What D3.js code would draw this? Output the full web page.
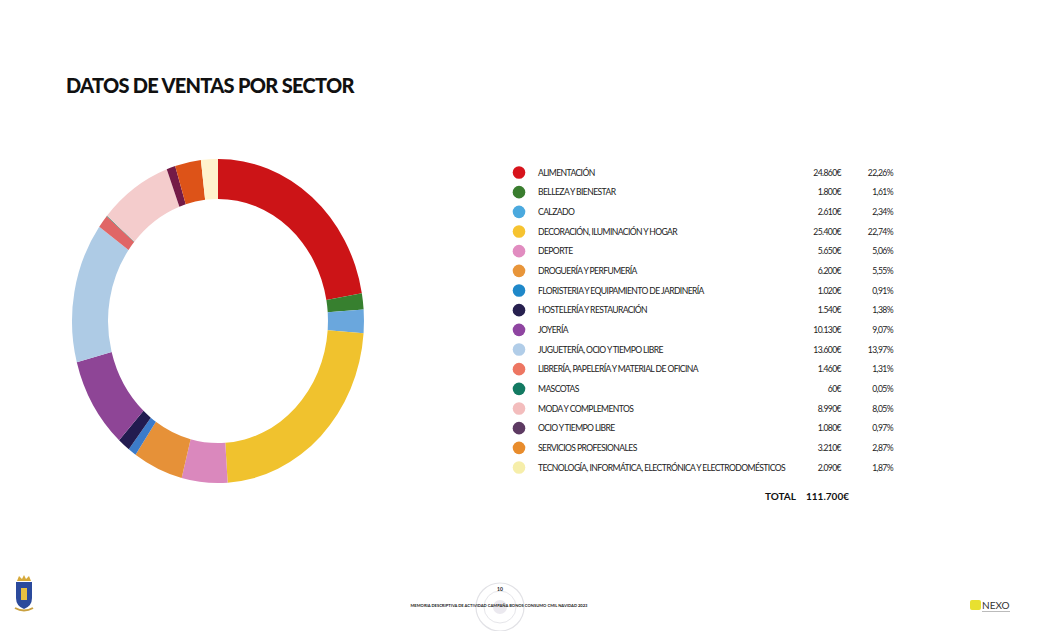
<!DOCTYPE html>
<html>
<head>
<meta charset="utf-8">
<script src="https://cdn.jsdelivr.net/npm/d3@7"></script>
<style>
  body { margin: 0; background: #fff; }
  svg { display: block; font-family: Lato, 'Open Sans', sans-serif; }
</style>
</head>
<body>
<div id="chart"></div>
<script>
'use strict';

var sectors = [
  'ALIMENTACIÓN', 'BELLEZA Y BIENESTAR', 'CALZADO', 'DECORACIÓN, ILUMINACIÓN Y HOGAR',
  'DEPORTE', 'DROGUERÍA Y PERFUMERÍA', 'FLORISTERIA Y EQUIPAMIENTO DE JARDINERÍA',
  'HOSTELERÍA Y RESTAURACIÓN', 'JOYERÍA', 'JUGUETERÍA, OCIO Y TIEMPO LIBRE',
  'LIBRERÍA, PAPELERÍA Y MATERIAL DE OFICINA', 'MASCOTAS', 'MODA Y COMPLEMENTOS',
  'OCIO Y TIEMPO LIBRE', 'SERVICIOS PROFESIONALES',
  'TECNOLOGÍA, INFORMÁTICA, ELECTRÓNICA Y ELECTRODOMÉSTICOS'
];
var ventas = [24860, 1800, 2610, 25400, 5650, 6200, 1020, 1540, 10130, 13600, 1460, 60, 8990, 1080, 3210, 2090];
var ventasTxt = ['24.860€', '1.800€', '2.610€', '25.400€', '5.650€', '6.200€', '1.020€', '1.540€',
  '10.130€', '13.600€', '1.460€', '60€', '8.990€', '1.080€', '3.210€', '2.090€'];
var porcentajes = [22.26, 1.61, 2.34, 22.74, 5.06, 5.55, 0.91, 1.38, 9.07, 13.97, 1.31, 0.05, 8.05, 0.97, 2.87, 1.87];
var coloresAnillo = ['#cc1417', '#37802f', '#6aa7dd', '#f0c22e', '#da88bd', '#e69138', '#3c7bc9', '#221b50',
  '#8e4596', '#aecbe5', '#e06666', '#127a62', '#f4cccc', '#741b47', '#dd5318', '#fff2cc'];
var coloresLeyenda = ['#d7141c', '#3a7d2f', '#4ba9de', '#f6c330', '#e18cc0', '#e8953a', '#1f88c9', '#27204f',
  '#8f45a1', '#b1cde8', '#ed7662', '#137a62', '#f3bdbd', '#5d3a62', '#e88c2c', '#f6eeaa'];
var total = '111.700€';

var W = 1051, H = 631;
var svg = d3.select('#chart').append('svg').attr('width', W).attr('height', H);

svg.append('text')
  .attr('x', 66).attr('y', 93)
  .style('font-size', '20px').style('font-weight', 900).style('letter-spacing', '-0.7px').style('fill', '#111')
  .text('DATOS DE VENTAS POR SECTOR');

// donut (slightly stretched vertically like the original)
var pie = d3.pie().sort(null).value(function(d) { return d; });
var arc = d3.arc().innerRadius(110).outerRadius(146);

var donut = svg.append('g')
  .attr('transform', 'translate(218,321) scale(1,1.11)');

donut.selectAll('path')
  .data(pie(porcentajes))
  .join('path')
  .attr('d', arc)
  .style('fill', function(d, i) { return coloresAnillo[i]; })
  .style('stroke', 'none');

// legend table
var rowY = d3.scaleLinear().domain([0, sectors.length - 1]).range([172.5, 467.5]);

var rows = svg.append('g').selectAll('g')
  .data(sectors)
  .join('g')
  .attr('transform', function(d, i) { return 'translate(0,' + rowY(i) + ')'; });

rows.append('circle')
  .attr('cx', 519).attr('cy', 0).attr('r', 6.3)
  .style('fill', function(d, i) { return coloresLeyenda[i]; });

function cell(sel) {
  sel.attr('y', 3)
    .style('font-size', '8.6px').style('letter-spacing', '-0.6px').style('fill', '#222');
}

rows.append('text').call(cell)
  .attr('x', 538)
  .text(function(d) { return d; });

rows.append('text').call(cell)
  .attr('x', 841).attr('text-anchor', 'end')
  .text(function(d, i) { return ventasTxt[i]; });

rows.append('text').call(cell)
  .attr('x', 893).attr('text-anchor', 'end')
  .text(function(d, i) { return porcentajes[i].toFixed(2).replace('.', ',') + '%'; });

svg.append('text')
  .attr('x', 796).attr('y', 500).attr('text-anchor', 'end')
  .style('font-size', '10px').style('font-weight', 700).style('fill', '#111')
  .text('TOTAL');
svg.append('text')
  .attr('x', 849).attr('y', 500).attr('text-anchor', 'end')
  .style('font-size', '10px').style('font-weight', 700).style('fill', '#111')
  .text(total);

// footer
var seal = svg.append('g').attr('transform', 'translate(500,607)');
seal.append('circle').attr('r', 24).style('fill', 'none').style('stroke', '#e2e2e6').style('stroke-width', 1.2);
seal.append('circle').attr('r', 16).style('fill', 'none').style('stroke', '#e6e6ea').style('stroke-width', 1);
seal.append('circle').attr('r', 7).style('fill', '#ebe9ef');

svg.append('text')
  .attr('x', 500).attr('y', 591).attr('text-anchor', 'middle')
  .style('font-size', '5px').style('font-weight', 700).style('fill', '#222')
  .text('10');
svg.append('text')
  .attr('x', 499).attr('y', 607).attr('text-anchor', 'middle')
  .style('font-size', '4.1px').style('font-weight', 700).style('fill', '#222')
  .text('MEMORIA DESCRIPTIVA DE ACTIVIDAD CAMPAÑA BONOS CONSUMO CMIL NAVIDAD 2023');

// coat of arms (simplified)
var arms = svg.append('g').attr('transform', 'translate(24,596)');
arms.append('path').attr('d', 'M-7,-15 L-5,-20 L-2,-17 L0,-21 L2,-17 L5,-20 L7,-15 Z').style('fill', '#d6a93a');
arms.append('path').attr('d', 'M-8,-14 L8,-14 L8,2 Q8,10 0,13 Q-8,10 -8,2 Z').style('fill', '#2b4a9c');
arms.append('rect').attr('x', -3).attr('y', -8).attr('width', 6).attr('height', 12).style('fill', '#e8c040');
arms.append('path').attr('d', 'M-9,12 Q0,17 9,12').style('fill', 'none').style('stroke', '#c9a040').style('stroke-width', 2);

// NEXO logo (simplified)
var nexo = svg.append('g').attr('transform', 'translate(970,600)');
nexo.append('rect').attr('x', 0).attr('y', 0).attr('width', 11).attr('height', 10).attr('rx', 2).style('fill', '#e8e030');
nexo.append('text').attr('x', 12).attr('y', 9)
  .style('font-size', '10px').style('fill', '#333').text('NEXO');
nexo.append('rect').attr('x', 12).attr('y', 11).attr('width', 28).attr('height', 1).style('fill', '#bbb');
</script>
</body>
</html>
